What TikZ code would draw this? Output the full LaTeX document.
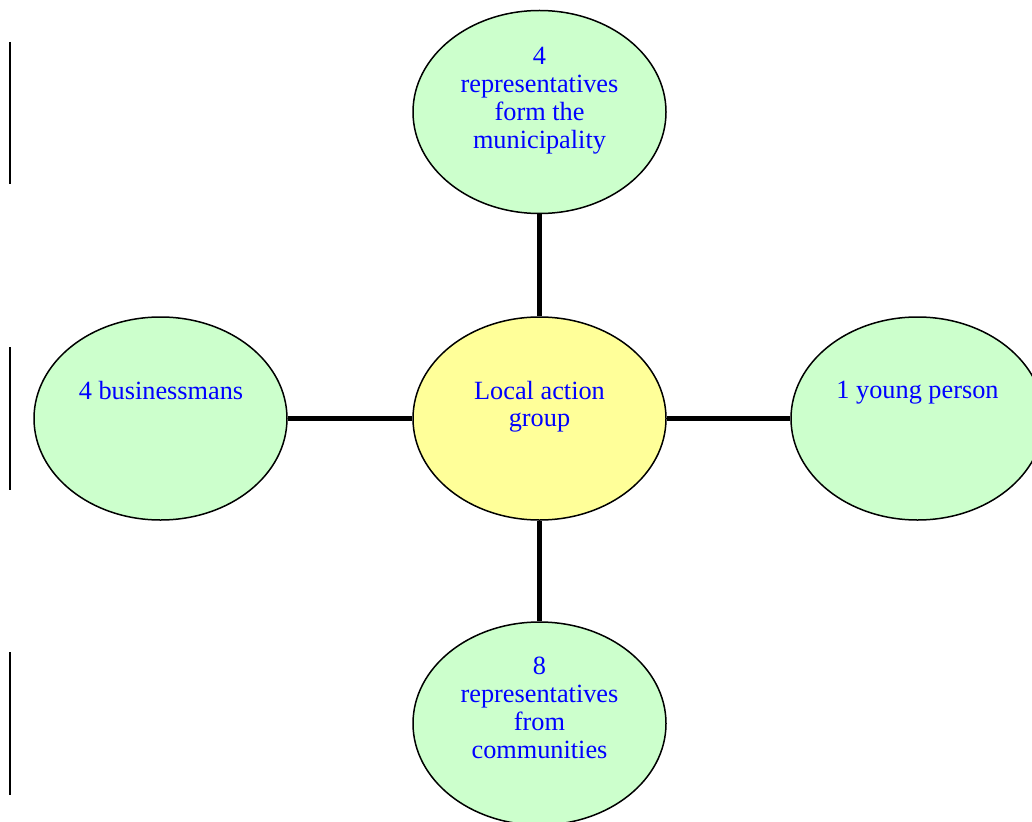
\documentclass[tikz,border=0pt]{standalone}
\usepackage{fontspec}
\setmainfont{Liberation Serif}
\usetikzlibrary{shapes.geometric}
\definecolor{lgreen}{HTML}{CCFFCC}
\definecolor{lyellow}{HTML}{FFFF99}
\definecolor{txtblue}{HTML}{0000FF}
\tikzset{
  bubble/.style={ellipse, draw=black, line width=1.5pt, minimum width=253pt, minimum height=203pt, inner sep=0pt, fill=lgreen},
  hub/.style={bubble, fill=lyellow},
  lbl/.style={anchor=north, inner sep=0pt, align=center, text=txtblue, font=\fontsize{26.3}{27.8}\selectfont},
  link/.style={line width=5pt, black},
  margin/.style={line width=2pt, black}
}
\begin{document}
\begin{tikzpicture}[x=1pt,y=-1pt]
\useasboundingbox (0,0) rectangle (1032,821);
\clip (0,0) rectangle (1032,821);
\node[hub] (c) at (539.5,418.5) {};
\node[bubble] (t) at (539.5,112) {};
\node[bubble] (l) at (160.5,418.5) {};
\node[bubble] (r) at (917.5,418.5) {};
\node[bubble] (b) at (539.5,723.5) {};
\draw[link] (t) -- (c);
\draw[link] (l) -- (c);
\draw[link] (c) -- (r);
\draw[link] (c) -- (b);
\node[lbl] (tl) at (539.5,47.2) {4\\representatives\\form the\\municipality};
\node[lbl] (ll) at (161,381.2) {4 businessmans};
\node[lbl] (cl) at (539.5,380.6) {Local action\\group};
\node[lbl] (rl) at (917.5,381.2) {1 young person};
\node[lbl] (bl) at (539.5,657.2) {8\\representatives\\from\\communities};
\coordinate (m1a) at (10,42); \coordinate (m1b) at (10,184);
\coordinate (m2a) at (10,347); \coordinate (m2b) at (10,490);
\coordinate (m3a) at (10,652); \coordinate (m3b) at (10,795);
\draw[margin] (m1a) -- (m1b);
\draw[margin] (m2a) -- (m2b);
\draw[margin] (m3a) -- (m3b);
\end{tikzpicture}
\end{document}
